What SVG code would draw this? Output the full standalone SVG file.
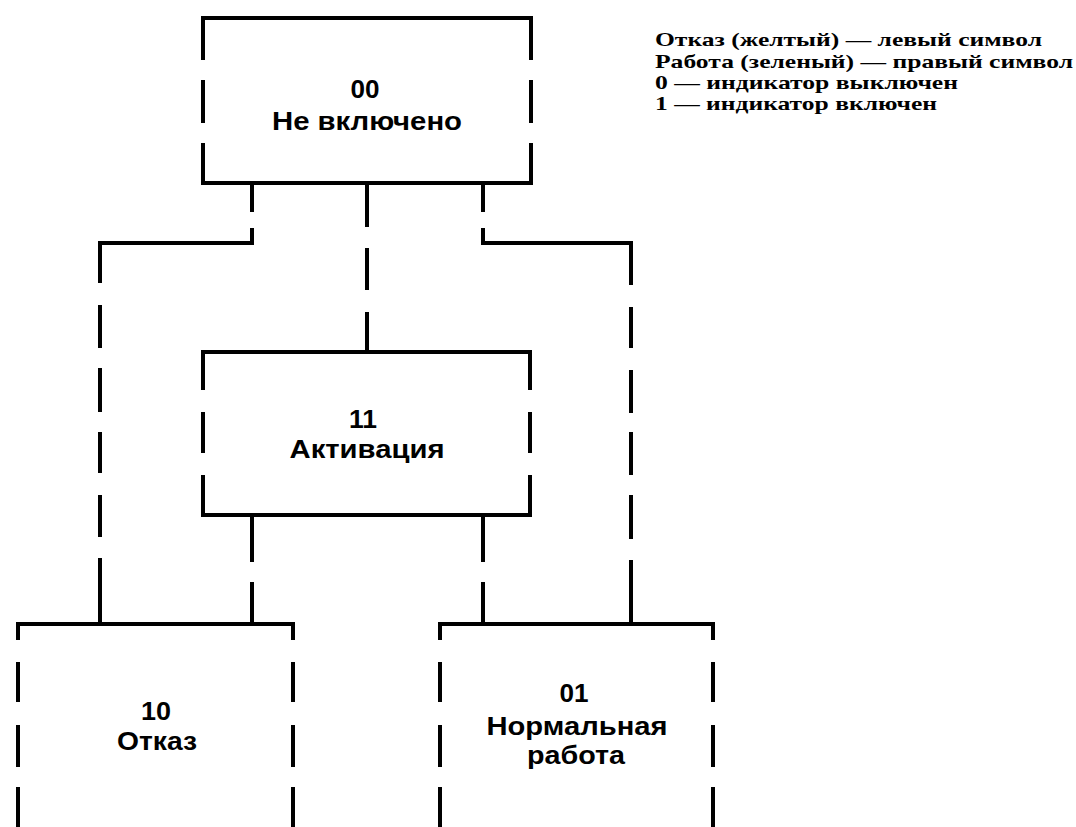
<svg xmlns="http://www.w3.org/2000/svg" width="1076" height="827" viewBox="0 0 1076 827">
<style>
.ln{fill:none;stroke:#000;stroke-width:4;stroke-linecap:butt;stroke-linejoin:miter}
.lbl{font-family:"Liberation Sans",Arial,sans-serif;font-weight:bold;font-size:26px;fill:#000;text-anchor:middle}
.leg{font-family:"Liberation Serif","Times New Roman",serif;font-weight:bold;font-size:19px;fill:#000}
</style>
<rect width="1076" height="827" fill="#fff"/>
<g id="connectors">
<path class="ln" d="M252 183V212M252 228V243H100V283M100 305V348M100 368V412M100 432V473M100 495V537M100 558V624"/>
<path class="ln" d="M367 183V227M367 248V290M367 312V352"/>
<path class="ln" d="M483 183V212M483 228V243H631V285M631 307V348M631 370V413M631 432V475M631 495V539M631 560V624"/>
<path class="ln" d="M252 515V562M252 582V624"/>
<path class="ln" d="M483 515V562M483 582V624"/>
</g>
<g id="node-00">
<path class="ln" d="M203 60V18H531V60M203 80V123M531 80V123M203 143V183H531V143"/>
<text class="lbl" x="365" y="98" textLength="29" lengthAdjust="spacingAndGlyphs">00</text>
<text class="lbl" x="367" y="130" textLength="190" lengthAdjust="spacingAndGlyphs">Не включено</text>
</g>
<g id="node-11">
<path class="ln" d="M203 390V352H530V390M203 412V453M530 412V453M203 475V515H530V475"/>
<text class="lbl" x="363" y="428" textLength="28" lengthAdjust="spacingAndGlyphs">11</text>
<text class="lbl" x="367" y="458" textLength="155" lengthAdjust="spacingAndGlyphs">Активация</text>
</g>
<g id="node-10">
<path class="ln" d="M18 640V624H293V640M18 662V702M293 662V702M18 725V767M293 725V767M18 787V827M293 787V827"/>
<text class="lbl" x="156" y="720" textLength="30" lengthAdjust="spacingAndGlyphs">10</text>
<text class="lbl" x="157" y="750" textLength="80" lengthAdjust="spacingAndGlyphs">Отказ</text>
</g>
<g id="node-01">
<path class="ln" d="M440 640V624H713V640M440 662V702M713 662V702M440 725V767M713 725V767M440 787V827M713 787V827"/>
<text class="lbl" x="574" y="702" textLength="29" lengthAdjust="spacingAndGlyphs">01</text>
<text class="lbl" x="577" y="735" textLength="181" lengthAdjust="spacingAndGlyphs">Нормальная</text>
<text class="lbl" x="576" y="764" textLength="98" lengthAdjust="spacingAndGlyphs">работа</text>
</g>
<g id="legend">
<text class="leg" x="655" y="46" textLength="387" lengthAdjust="spacingAndGlyphs">Отказ (желтый) — левый символ</text>
<text class="leg" x="655" y="68" textLength="418" lengthAdjust="spacingAndGlyphs">Работа (зеленый) — правый символ</text>
<text class="leg" x="655" y="89" textLength="303" lengthAdjust="spacingAndGlyphs">0 — индикатор выключен</text>
<text class="leg" x="655" y="110" textLength="282" lengthAdjust="spacingAndGlyphs">1 — индикатор включен</text>
</g>
</svg>
